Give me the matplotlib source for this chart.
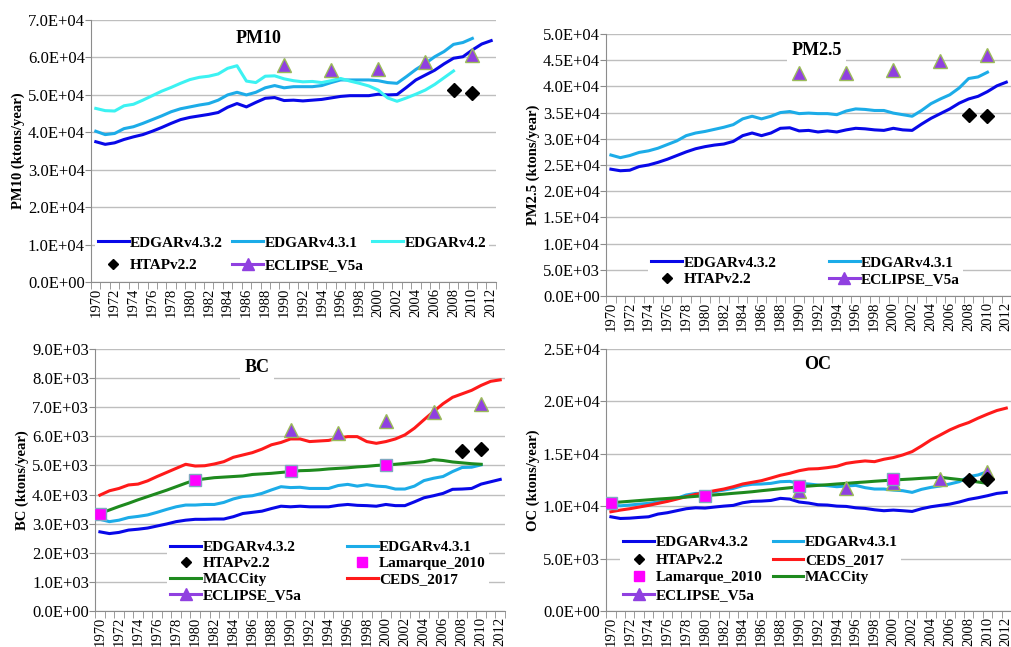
import matplotlib
matplotlib.use("Agg")
import matplotlib.pyplot as plt
from matplotlib.lines import Line2D
from matplotlib.ticker import FuncFormatter, MultipleLocator
import numpy as np

plt.rcParams['font.family'] = ['Liberation Serif', 'DejaVu Serif']

years = list(range(1970, 2013))
eclipse_years = [1990, 1995, 2000, 2005, 2010]
htap_years = [2008, 2010]
lamarque_years = [1970, 1980, 1990, 2000]

# PM10 (ktons/year)
pm10_v432 = [37500, 36800, 37200, 38100, 38800, 39400, 40300, 41300, 42400, 43400,
             44000, 44400, 44800, 45300, 46700, 47700, 46800, 48000, 49100, 49300,
             48500, 48600, 48400, 48600, 48800, 49200, 49600, 49800, 49800, 49800,
             50200, 50000, 50100, 52000, 54000, 55300, 56600, 58300, 59800, 60200,
             62000, 63600, 64500]
pm10_v431 = [40300, 39400, 39700, 41000, 41500, 42400, 43400, 44400, 45500, 46300,
             46800, 47300, 47700, 48600, 50000, 50700, 50000, 50700, 51900, 52500,
             51900, 52200, 52200, 52200, 52500, 53300, 54000, 54000, 54000, 54000,
             53800, 53300, 53100, 54900, 56800, 58400, 60200, 61600, 63500, 64000,
             65100]
pm10_v42 = [46400, 45800, 45700, 47100, 47500, 48600, 49800, 51000, 52000, 53100,
            54100, 54700, 55000, 55600, 57100, 57800, 53700, 53300, 55000, 55100,
            54300, 53800, 53500, 53600, 53300, 53800, 54400, 53700, 53100, 52400,
            51300, 49200, 48300, 49200, 50200, 51300, 52800, 54600, 56400]
pm10_htap = [51300, 50400]
pm10_eclipse = [58000, 56600, 56800, 58900, 60700]

# PM2.5 (ktons/year)
pm25_v432 = [24200, 23900, 24000, 24700, 25000, 25500, 26100, 26800, 27500, 28100,
             28500, 28800, 29000, 29500, 30600, 31100, 30600, 31100, 32000, 32100,
             31500, 31600, 31300, 31500, 31300, 31700, 32000, 31900, 31700, 31600,
             32000, 31700, 31600, 32800, 33900, 34800, 35700, 36800, 37600, 38100,
             39000, 40100, 40800]
pm25_v431 = [26900, 26400, 26800, 27400, 27700, 28200, 28900, 29600, 30600, 31100,
             31400, 31800, 32200, 32700, 33800, 34300, 33800, 34300, 35000, 35200,
             34800, 34900, 34800, 34800, 34600, 35300, 35700, 35600, 35400, 35400,
             34900, 34600, 34300, 35400, 36700, 37600, 38400, 39700, 41500, 41800,
             42700]
pm25_htap = [34500, 34300]
pm25_eclipse = [42500, 42500, 43200, 44800, 45900]

# BC (ktons/year)
bc_v432 = [2720, 2660, 2700, 2780, 2810, 2850, 2920, 2990, 3070, 3120,
           3150, 3150, 3160, 3160, 3240, 3350, 3390, 3430, 3520, 3600,
           3580, 3600, 3580, 3580, 3580, 3630, 3660, 3630, 3620, 3600,
           3660, 3620, 3620, 3750, 3890, 3960, 4040, 4180, 4190, 4210,
           4360, 4440, 4520]
bc_v431 = [3150, 3070, 3120, 3210, 3250, 3300, 3390, 3490, 3580, 3640,
           3640, 3660, 3660, 3730, 3850, 3930, 3960, 4040, 4160, 4270,
           4240, 4250, 4210, 4210, 4210, 4310, 4350, 4290, 4340, 4290,
           4270, 4190, 4190, 4290, 4480, 4560, 4620, 4790, 4930, 4940,
           5020]
bc_ceds = [3980, 4130, 4210, 4330, 4360, 4470, 4620, 4760, 4900, 5040,
           4980, 4990, 5050, 5130, 5280, 5360, 5440, 5560, 5710, 5790,
           5910, 5910, 5820, 5840, 5860, 5940, 5990, 5990, 5820, 5760,
           5820, 5910, 6050, 6280, 6570, 6850, 7120, 7340, 7460, 7580,
           7750, 7890, 7940]
bc_maccity = [3350, 3470, 3590, 3700, 3820, 3930, 4040, 4150, 4270, 4390,
              4500, 4540, 4580, 4600, 4620, 4640, 4690, 4710, 4730, 4760,
              4790, 4820, 4830, 4850, 4880, 4900, 4920, 4950, 4970, 5000,
              5020, 5040, 5070, 5100, 5130, 5200, 5170, 5120, 5090, 5060,
              5040]
bc_lamarque = [3330, 4500, 4820, 5000]
bc_htap = [5480, 5560]
bc_eclipse = [6220, 6110, 6510, 6850, 7120]

# OC (ktons/year)
oc_v432 = [8990, 8830, 8860, 8930, 8990, 9250, 9380, 9570, 9760, 9850,
           9820, 9920, 10010, 10080, 10330, 10460, 10490, 10550, 10750, 10680,
           10400, 10300, 10140, 10110, 10010, 9980, 9850, 9790, 9660, 9570,
           9630, 9570, 9500, 9760, 9950, 10080, 10200, 10400, 10650, 10810,
           11000, 11220, 11320]
oc_v431 = [10110, 10040, 10110, 10200, 10270, 10400, 10520, 10750, 11070, 11220,
           11220, 11380, 11540, 11700, 11960, 12090, 12120, 12180, 12340, 12370,
           12180, 12120, 12020, 11960, 11860, 11930, 11990, 11770, 11640, 11640,
           11540, 11480, 11320, 11610, 11800, 11930, 12120, 12340, 12820, 12980,
           13300]
oc_ceds = [9470, 9630, 9760, 9920, 10080, 10270, 10460, 10680, 10910, 11130,
           11290, 11480, 11640, 11860, 12120, 12280, 12440, 12690, 12950, 13140,
           13390, 13550, 13580, 13680, 13810, 14090, 14220, 14320, 14250, 14480,
           14640, 14890, 15210, 15750, 16330, 16800, 17280, 17670, 17980, 18400,
           18780, 19130, 19360]
oc_maccity = [10330, 10400, 10470, 10540, 10610, 10680, 10740, 10810, 10870, 10940,
              11000, 11080, 11150, 11230, 11300, 11380, 11480, 11570, 11670, 11760,
              11860, 11920, 11990, 12050, 12120, 12180, 12250, 12310, 12380, 12440,
              12500, 12550, 12600, 12660, 12710, 12760, 12650, 12550, 12440, 12310,
              12180]
oc_lamarque = [10270, 11000, 11930, 12560]
oc_htap = [12500, 12560]
oc_eclipse = [11480, 11700, 12180, 12560, 13300]

C_V432 = '#0808E8'
C_V431 = '#1CACE8'
C_V42 = '#3CF2F2'
C_MACC = '#1E8A1E'
C_CEDS = '#FF1A1A'
C_ECL = '#9040E0'
C_ECL_EDGE = '#9BBB59'
C_LAM = '#FF00FF'
C_LAM_EDGE = '#7FA8C0'
GRID = '#BEBEBE'
LW = 2.2


def handle(name):
    if name == 'EDGARv4.3.2':
        return Line2D([], [], color=C_V432, lw=LW)
    if name == 'EDGARv4.3.1':
        return Line2D([], [], color=C_V431, lw=LW)
    if name == 'EDGARv4.2':
        return Line2D([], [], color=C_V42, lw=LW)
    if name == 'MACCity':
        return Line2D([], [], color=C_MACC, lw=LW)
    if name == 'CEDS_2017':
        return Line2D([], [], color=C_CEDS, lw=LW)
    if name == 'HTAPv2.2':
        return Line2D([], [], ls='none', marker='D', ms=5, color='black')
    if name == 'Lamarque_2010':
        return Line2D([], [], ls='none', marker='s', ms=7, color=C_LAM)
    return Line2D([], [], color=C_ECL, lw=LW, marker='^', ms=8, mfc=C_ECL, mec=C_ECL)


def style_axis(ax, ymax, ystep, ylabel, title, tx, ty):
    ax.set_xlim(1969.5, 2012.5)
    ax.set_ylim(0, ymax)
    ax.yaxis.set_major_locator(MultipleLocator(ystep))
    ax.yaxis.set_major_formatter(FuncFormatter(lambda v, p: f"{v:.1E}"))
    ax.set_xticks(years[::2])
    ax.set_xticklabels([str(y) for y in years[::2]], rotation=90)
    ax.set_xticks(np.arange(1969.5, 2013, 1), minor=True)
    ax.tick_params(axis='x', which='major', length=0, pad=4, labelsize=10.5)
    ax.tick_params(axis='x', which='minor', length=5, color='#8C8C8C')
    ax.tick_params(axis='y', length=4, color='#8C8C8C', labelsize=12, pad=0.5)
    ax.grid(axis='y', color=GRID, lw=1)
    ax.set_axisbelow(True)
    for s in ['top', 'right']:
        ax.spines[s].set_visible(False)
    for s in ['left', 'bottom']:
        ax.spines[s].set_color('#8C8C8C')
    ax.set_ylabel(ylabel, fontsize=10.5, fontweight='bold', labelpad=2)
    ax.text(tx, ty, title, transform=ax.transAxes, ha='center', va='center',
            fontsize=13, fontweight='bold', zorder=5,
            bbox=dict(facecolor='white', edgecolor='none', pad=3))


def add_legend(ax, names, ncol, anchor, colsp, rowsp):
    leg = ax.legend([handle(n) for n in names], names, ncol=ncol, loc='lower left',
                    bbox_to_anchor=anchor, borderaxespad=0, frameon=True,
                    prop={'weight': 'bold', 'size': 11}, handlelength=2.0,
                    handletextpad=0.1, columnspacing=colsp, labelspacing=rowsp,
                    borderpad=0.2)
    leg.get_frame().set_facecolor('white')
    leg.get_frame().set_edgecolor('none')
    leg.get_frame().set_alpha(1)
    leg.set_zorder(4)


def eclipse(ax, vals):
    ax.plot(eclipse_years, vals, ls='none', marker='^', ms=10, mfc=C_ECL,
            mec=C_ECL_EDGE, mew=1, zorder=3)


def htap(ax, vals):
    ax.plot(htap_years, vals, ls='none', marker='D', ms=7, color='black', zorder=4)


def lamarque(ax, vals):
    ax.plot(lamarque_years, vals, ls='none', marker='s', ms=9, mfc=C_LAM,
            mec=C_LAM_EDGE, mew=1, zorder=4)


fig = plt.figure(figsize=(10.12, 6.47), dpi=100)

# PM10
ax1 = fig.add_axes([0.090, 0.564, 0.400, 0.405])
ax1.plot(years, pm10_v432, color=C_V432, lw=LW)
ax1.plot(years[:41], pm10_v431, color=C_V431, lw=LW)
ax1.plot(years[:39], pm10_v42, color=C_V42, lw=LW)
htap(ax1, pm10_htap)
eclipse(ax1, pm10_eclipse)
style_axis(ax1, 70000, 10000, 'PM10 (ktons/year)', 'PM10', 0.415, 0.93)
add_legend(ax1, ['EDGARv4.3.2', 'HTAPv2.2', 'EDGARv4.3.1', 'ECLIPSE_V5a', 'EDGARv4.2'],
           3, (0.01, 0.027), 0.6, 0.57)

# PM2.5
ax2 = fig.add_axes([0.599, 0.5425, 0.400, 0.405])
ax2.plot(years, pm25_v432, color=C_V432, lw=LW)
ax2.plot(years[:41], pm25_v431, color=C_V431, lw=LW)
htap(ax2, pm25_htap)
eclipse(ax2, pm25_eclipse)
style_axis(ax2, 50000, 5000, 'PM2.5 (ktons/year)', 'PM2.5', 0.52, 0.935)
add_legend(ax2, ['EDGARv4.3.2', 'HTAPv2.2', 'EDGARv4.3.1', 'ECLIPSE_V5a'],
           2, (0.104, 0.027), 3.45, 0.16)

# BC
ax3 = fig.add_axes([0.094, 0.0556, 0.405, 0.405])
ax3.plot(years, bc_v432, color=C_V432, lw=LW)
ax3.plot(years[:41], bc_v431, color=C_V431, lw=LW)
ax3.plot(years[:41], bc_maccity, color=C_MACC, lw=LW)
ax3.plot(years, bc_ceds, color=C_CEDS, lw=LW)
htap(ax3, bc_htap)
lamarque(ax3, bc_lamarque)
eclipse(ax3, bc_eclipse)
style_axis(ax3, 9000, 1000, 'BC (ktons/year)', 'BC', 0.395, 0.93)
add_legend(ax3, ['EDGARv4.3.2', 'HTAPv2.2', 'MACCity', 'ECLIPSE_V5a',
                 'EDGARv4.3.1', 'Lamarque_2010', 'CEDS_2017'],
           2, (0.176, 0.023), 3.0, 0.14)

# OC
ax4 = fig.add_axes([0.599, 0.0556, 0.400, 0.405])
ax4.plot(years, oc_v432, color=C_V432, lw=LW)
ax4.plot(years[:41], oc_v431, color=C_V431, lw=LW)
ax4.plot(years, oc_ceds, color=C_CEDS, lw=LW)
ax4.plot(years[:41], oc_maccity, color=C_MACC, lw=LW)
eclipse(ax4, oc_eclipse)
lamarque(ax4, oc_lamarque)
htap(ax4, oc_htap)
style_axis(ax4, 25000, 5000, 'OC (ktons/year)', 'OC', 0.523, 0.94)
add_legend(ax4, ['EDGARv4.3.2', 'HTAPv2.2', 'Lamarque_2010', 'ECLIPSE_V5a',
                 'EDGARv4.3.1', 'CEDS_2017', 'MACCity'],
           2, (0.035, 0.023), 0.7, 0.25)

fig.savefig('out.png', dpi=100, facecolor='white')
